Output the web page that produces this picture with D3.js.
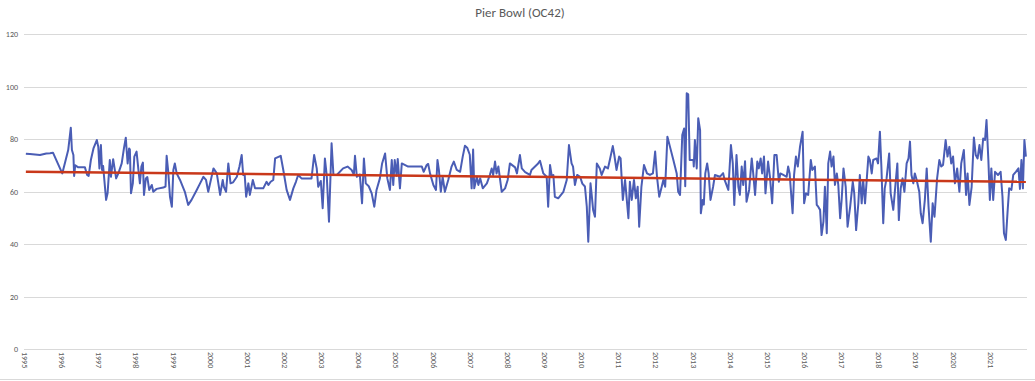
<!DOCTYPE html>
<html>
  <head>
    <meta charset="utf-8">
    <title>Pier Bowl (OC42)</title>
    <style>
      body { margin: 0; background: #fff; }
      .chart text { font-family: Carlito, "Liberation Sans Narrow", "Liberation Sans", sans-serif; fill: #595959; }
      .grid line { stroke: #d9d9d9; stroke-width: 1; shape-rendering: crispEdges; }
      .series { fill: none; stroke: #4a5db5; stroke-width: 2; stroke-linejoin: round; }
      .trend { fill: none; stroke: #c9381a; stroke-width: 2.5; }
    </style>
  </head>
  <body>
    <div class="chart"></div>

    <script src="https://d3js.org/d3.v7.min.js"></script>
    <script>
      // chart title and axis ticks
      const title = "Pier Bowl (OC42)";
      const yTicks = [0, 20, 40, 60, 80, 100, 120];
      const yearLabels = d3.range(1995, 2022);

      // readings: [decimal year, value]
      const readings = [
        [1995.05,74.4],[1995.16,74.3],[1995.43,73.9],[1995.60,74.5],[1995.70,74.6],[1995.78,74.8],[1995.90,71],
        [1996.03,66.9],[1996.10,70.8],[1996.19,75.8],[1996.26,84.3],[1996.29,75.8],[1996.33,73.9],[1996.35,65.9],
        [1996.38,70],[1996.46,69.2],[1996.64,69.2],[1996.70,66.3],[1996.74,65.9],[1996.80,72],[1996.87,76.4],
        [1996.96,79.6],[1997.00,77],[1997.03,68.8],[1997.07,77.7],[1997.10,68.2],[1997.13,69.7],[1997.21,56.8],
        [1997.25,59.3],[1997.31,72],[1997.34,65.6],[1997.40,72.3],[1997.48,65],[1997.54,66.9],[1997.63,70.7],
        [1997.69,76.4],[1997.74,80.5],[1997.76,76.4],[1997.79,70.7],[1997.83,76.4],[1997.85,76],[1997.88,59.3],
        [1997.93,63.1],[1997.97,73.3],[1998.03,75.2],[1998.09,66.9],[1998.12,63.1],[1998.16,69.5],[1998.20,71],
        [1998.23,58.7],[1998.28,65],[1998.32,65.5],[1998.37,60.6],[1998.44,62.5],[1998.48,59.9],[1998.57,61],
        [1998.75,61.5],[1998.81,61.9],[1998.84,73.6],[1998.88,68],[1998.93,58],[1998.98,54.2],[1999.02,68.2],
        [1999.06,70.7],[1999.11,66.9],[1999.20,64.4],[1999.33,59.9],[1999.42,54.9],[1999.51,56.8],[1999.65,60.6],
        [1999.74,63.1],[1999.83,65.6],[1999.90,64.4],[1999.96,59.9],[2000.00,62.5],[2000.10,68.8],[2000.19,66.9],
        [2000.28,58.7],[2000.35,64.4],[2000.38,61.8],[2000.44,59.9],[2000.50,70.7],[2000.56,63.1],[2000.63,63.5],
        [2000.73,65.6],[2000.80,69.5],[2000.86,73.9],[2000.90,66.3],[2000.94,66.5],[2000.98,58],[2001.04,63.1],
        [2001.08,58.7],[2001.16,64.4],[2001.22,61.2],[2001.44,61.2],[2001.53,63.7],[2001.58,62.5],[2001.64,63.7],
        [2001.71,64.4],[2001.76,72.6],[2001.91,73.6],[2001.98,68.2],[2002.07,60.6],[2002.16,56.8],[2002.25,61.2],
        [2002.32,63.7],[2002.38,66.3],[2002.47,65],[2002.74,65],[2002.81,73.9],[2002.88,68.8],[2002.92,61.8],
        [2002.99,64],[2003.04,53.6],[2003.10,72.6],[2003.15,66],[2003.21,48.5],[2003.28,78.4],[2003.33,66.3],
        [2003.42,66.3],[2003.59,68.8],[2003.71,69.5],[2003.82,68.2],[2003.88,66.5],[2003.91,73.6],[2003.96,65.6],
        [2004.04,66.5],[2004.10,55.5],[2004.15,72.6],[2004.20,63.1],[2004.28,62],[2004.36,59.3],[2004.43,54.2],
        [2004.49,60.6],[2004.58,65],[2004.64,70.7],[2004.72,74.5],[2004.78,65],[2004.85,60.6],[2004.90,72],
        [2004.94,62.5],[2004.98,72],[2005.03,66],[2005.06,72.4],[2005.12,61.2],[2005.17,70.7],[2005.34,69.5],
        [2005.71,69.5],[2005.76,67.5],[2005.84,70.1],[2005.88,70.5],[2005.93,66.9],[2006.02,62.5],[2006.09,60.6],
        [2006.13,72],[2006.17,68],[2006.22,59.9],[2006.27,65.6],[2006.33,59.9],[2006.42,64.4],[2006.51,69.5],
        [2006.57,71.4],[2006.65,68.2],[2006.74,67.5],[2006.81,73.3],[2006.87,77.4],[2006.93,76.7],[2007.00,74],
        [2007.05,61.2],[2007.09,76],[2007.12,61.2],[2007.19,65.6],[2007.23,62.5],[2007.28,65],[2007.35,61.2],
        [2007.46,63.1],[2007.54,66.3],[2007.59,68.8],[2007.63,66.3],[2007.68,71.4],[2007.72,66.9],[2007.77,69.5],
        [2007.86,59.9],[2007.95,61.2],[2008.02,64.4],[2008.08,70.7],[2008.22,69.2],[2008.27,66.9],[2008.35,73.9],
        [2008.40,68.8],[2008.49,67.4],[2008.62,66.3],[2008.66,68.2],[2008.84,70.7],[2008.89,71.7],[2008.98,66.9],
        [2009.07,65.6],[2009.11,54.2],[2009.16,70.1],[2009.21,65.6],[2009.25,66.3],[2009.29,58],[2009.38,57.4],
        [2009.52,59.9],[2009.61,64.4],[2009.67,77.7],[2009.74,70.7],[2009.78,69.5],[2009.83,62.5],[2009.89,66.3],
        [2009.97,65.6],[2010.03,63],[2010.10,61.9],[2010.15,54.2],[2010.19,40.9],[2010.25,63.1],[2010.28,59],
        [2010.32,53],[2010.37,50.4],[2010.42,70.7],[2010.50,68.8],[2010.55,66.3],[2010.64,69.5],[2010.72,68.8],
        [2010.77,72],[2010.85,77.3],[2010.89,74],[2010.95,68.2],[2011.02,73.3],[2011.06,72.6],[2011.12,56.8],
        [2011.18,64.4],[2011.27,49.8],[2011.31,63.7],[2011.36,56.8],[2011.42,64.4],[2011.47,57.4],[2011.52,61.8],
        [2011.56,46.6],[2011.62,61.8],[2011.69,70.1],[2011.77,66.9],[2011.85,66.3],[2011.93,66.9],[2011.99,75.2],
        [2012.04,65.6],[2012.10,58],[2012.17,62],[2012.21,64.4],[2012.26,61.8],[2012.32,80.9],[2012.39,77],
        [2012.48,72],[2012.57,66.9],[2012.61,59.9],[2012.66,58.7],[2012.72,81.5],[2012.77,84],[2012.80,62],
        [2012.84,97.4],[2012.88,97],[2012.92,72],[2013.02,72],[2013.03,69.5],[2013.06,79.6],[2013.11,68.8],
        [2013.15,87.9],[2013.20,83.4],[2013.22,51.7],[2013.27,56.8],[2013.30,55],[2013.34,66.9],[2013.39,70.7],
        [2013.43,66.9],[2013.48,56.8],[2013.55,61.8],[2013.60,66.3],[2013.73,65.6],[2013.82,67],[2013.86,64.4],
        [2013.96,60.6],[2014.03,77.7],[2014.08,70.7],[2014.12,54.9],[2014.18,73.9],[2014.23,61.8],[2014.27,58.7],
        [2014.32,69.5],[2014.36,62.5],[2014.41,71.5],[2014.45,56.1],[2014.52,60.6],[2014.59,72.6],[2014.63,66.9],
        [2014.68,58.7],[2014.74,71.4],[2014.78,68.8],[2014.83,72.6],[2014.87,66.9],[2014.92,73.3],[2014.96,59.3],
        [2015.03,71.4],[2015.08,65.6],[2015.14,55.5],[2015.20,73.9],[2015.26,73.9],[2015.32,63.7],[2015.36,66.9],
        [2015.44,66.3],[2015.53,65.6],[2015.57,69.5],[2015.61,66.9],[2015.69,51.7],[2015.73,66.3],[2015.78,73.3],
        [2015.83,69.5],[2015.89,77.1],[2015.96,82.8],[2016.00,55.5],[2016.05,59.3],[2016.11,58.7],[2016.18,72],
        [2016.22,68.2],[2016.29,69.5],[2016.34,54.9],[2016.38,54.2],[2016.43,53],[2016.47,43.4],[2016.52,48.5],
        [2016.56,61.8],[2016.61,44.1],[2016.65,70.7],[2016.70,75.2],[2016.74,69.5],[2016.79,73.3],[2016.83,62.5],
        [2016.88,66.9],[2016.92,62.5],[2016.97,49.8],[2017.01,56.8],[2017.06,68.8],[2017.12,61.8],[2017.17,46.6],
        [2017.24,54.2],[2017.31,63.7],[2017.35,59.3],[2017.40,45.3],[2017.46,55.5],[2017.50,66.3],[2017.55,55.5],
        [2017.59,64.4],[2017.64,55.5],[2017.73,73.3],[2017.77,72],[2017.82,66.9],[2017.86,72],[2017.95,72.6],
        [2017.99,70.7],[2018.04,82.8],[2018.08,69.5],[2018.13,47.9],[2018.17,61.2],[2018.22,65],[2018.29,74.5],
        [2018.33,59.3],[2018.40,53],[2018.45,61.2],[2018.51,70.7],[2018.55,49.1],[2018.60,61.2],[2018.65,65],
        [2018.70,59.9],[2018.76,70.7],[2018.81,72.6],[2018.85,79],[2018.89,66.3],[2018.94,63.1],[2018.98,66.9],
        [2019.03,64.4],[2019.10,59.9],[2019.14,51.7],[2019.19,47.9],[2019.25,56.8],[2019.30,68.8],[2019.35,54.2],
        [2019.41,40.9],[2019.46,55.5],[2019.51,50.4],[2019.58,65],[2019.64,72],[2019.69,69.5],[2019.74,70.1],
        [2019.81,79.6],[2019.86,73.3],[2019.91,77],[2019.96,70.7],[2020.01,73.3],[2020.06,63.1],[2020.12,68.8],
        [2020.18,59.9],[2020.23,70.7],[2020.30,75.8],[2020.36,58.7],[2020.40,66.9],[2020.45,54.9],[2020.51,61.8],
        [2020.57,80.6],[2020.62,73.9],[2020.67,72.6],[2020.72,77.7],[2020.77,72],[2020.82,80.2],[2020.87,79.6],
        [2020.91,87.2],[2020.96,72],[2021.00,56.8],[2021.04,68.8],[2021.09,56.8],[2021.14,67.5],[2021.22,66.3],
        [2021.29,67.5],[2021.34,58],[2021.38,44.1],[2021.43,41.5],[2021.48,53],[2021.52,61.2],[2021.58,60.6],
        [2021.63,66.3],[2021.70,67.5],[2021.77,68.8],[2021.81,61],[2021.85,72],[2021.89,61.2],[2021.93,79.6],
        [2021.97,73.3]
      ];

      // linear trend end points (year, value)
      const trendYears = [1995.05, 2021.97];
      const trendValues = [67.5, 63.7];

      const width = 1035, height = 381;
      const plot = { left: 24, right: 1027, top: 34, bottom: 349 };

      const x = d3.scaleLinear()
        .domain([1995, 2022])
        .range([plot.left, plot.right]);

      const y = d3.scaleLinear()
        .domain([0, 120])
        .range([plot.bottom, plot.top]);

      const svg = d3.select(".chart")
        .append("svg")
        .attr("width", width)
        .attr("height", height);

      // title
      svg.append("text")
        .attr("x", 520)
        .attr("y", 17)
        .attr("text-anchor", "middle")
        .style("font-size", "13px")
        .text(title);

      // horizontal gridlines + y labels
      const yAxis = d3.axisLeft(y)
        .tickValues(yTicks)
        .tickSize(-(plot.right - plot.left))
        .tickPadding(6);

      svg.append("g")
        .attr("class", "grid")
        .attr("transform", `translate(${plot.left},0)`)
        .call(yAxis)
        .call(g => g.select(".domain").remove())
        .call(g => g.selectAll("text").style("font-size", "8px"));

      // x labels, rotated
      const xAxis = d3.axisBottom(x)
        .tickValues(yearLabels)
        .tickFormat(d3.format("d"))
        .tickSize(0);

      svg.append("g")
        .attr("transform", `translate(0,${plot.bottom})`)
        .call(xAxis)
        .call(g => g.select(".domain").remove())
        .call(g => g.selectAll("text")
          .style("font-size", "8px")
          .attr("text-anchor", "start")
          .attr("dy", "0.32em")
          .attr("transform", "translate(0,3) rotate(90)")
          .attr("y", 0)
          .attr("x", 0));

      // bottom frame line
      svg.append("line")
        .attr("x1", 0).attr("x2", width)
        .attr("y1", 379.5).attr("y2", 379.5)
        .attr("stroke", "#d9d9d9");

      const line = d3.line()
        .x(d => x(d[0]))
        .y(d => y(d[1]));

      svg.append("path")
        .datum(readings)
        .attr("class", "series")
        .attr("d", line);

      svg.append("path")
        .datum(d3.zip(trendYears, trendValues))
        .attr("class", "trend")
        .attr("d", line);
    </script>
  </body>
</html>
